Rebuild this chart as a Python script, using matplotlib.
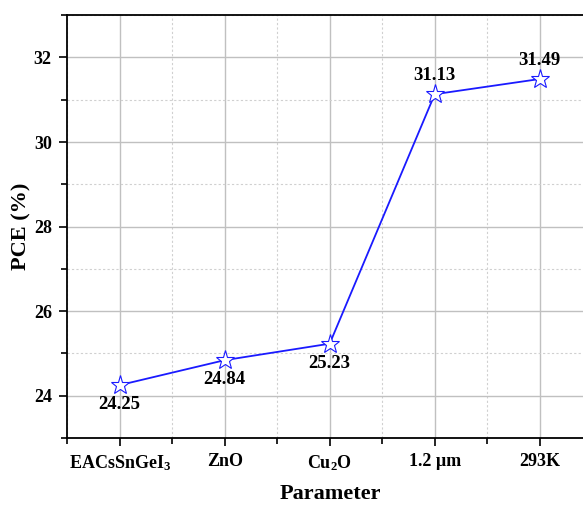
import matplotlib
matplotlib.use("Agg")
from matplotlib import pyplot as plt
from matplotlib.ticker import MultipleLocator

params = ["EACsSnGeI$_3$", "ZnO", "Cu$_2$O", "1.2 \u00b5m", "293K"]
pce = [24.25, 24.84, 25.23, 31.13, 31.49]
label_pos = ["below", "below", "below", "above", "above"]

plt.rcParams['font.family'] = ['Liberation Serif', 'DejaVu Serif']
plt.rcParams['mathtext.fontset'] = 'custom'
plt.rcParams['mathtext.rm'] = 'Liberation Serif:bold'
plt.rcParams['mathtext.it'] = 'Liberation Serif:bold'
plt.rcParams['mathtext.bf'] = 'Liberation Serif:bold'

fig = plt.figure(figsize=(5.83, 5.05), dpi=100)
ax = fig.add_axes([0.115, 0.1327, 0.901, 0.8373])

x = list(range(len(params)))
ax.plot(x, pce, color="#1a1aff", lw=1.3, marker="*", ms=14, mfc="white",
        mec="#1a1aff", mew=0.8, zorder=3)

for xi, v, p in zip(x, pce, label_pos):
    if p == "below":
        ax.annotate(f"{v:.2f}", (xi, v), xytext=(0, -8), textcoords="offset points",
                    ha="center", va="top", fontsize=13.5, fontweight="bold")
    else:
        ax.annotate(f"{v:.2f}", (xi, v), xytext=(0, 7), textcoords="offset points",
                    ha="center", va="bottom", fontsize=13.5, fontweight="bold")

ax.set_xlim(-0.5, 4.5)
ax.set_ylim(23, 33)
ax.set_xticks(x)
ax.set_xticklabels(params)
ax.set_xticks([i + 0.5 for i in range(-1, 5)], minor=True)
ax.yaxis.set_major_locator(MultipleLocator(2))
ax.yaxis.set_minor_locator(MultipleLocator(1))

ax.grid(which="major", color="#c0c0c0", lw=1.0, ls="-")
ax.grid(which="minor", color="#d0d0d0", lw=0.8, ls=(0, (2, 2)))
ax.set_axisbelow(True)

ax.tick_params(which="both", direction="out", width=1.2, labelsize=13)
ax.tick_params(which="major", length=6, pad=5)
ax.tick_params(which="minor", length=4)
for lab in ax.get_xticklabels() + ax.get_yticklabels():
    lab.set_fontweight("bold")
for s in ax.spines.values():
    s.set_linewidth(1.3)

ax.set_xlabel("Parameter", fontsize=16, fontweight="bold")
ax.set_ylabel("PCE (%)", fontsize=16, fontweight="bold")
ax.xaxis.set_label_coords(0.501, -0.108)
ax.yaxis.set_label_coords(-0.068, 0.5)

fig.savefig("out.png", dpi=100)
